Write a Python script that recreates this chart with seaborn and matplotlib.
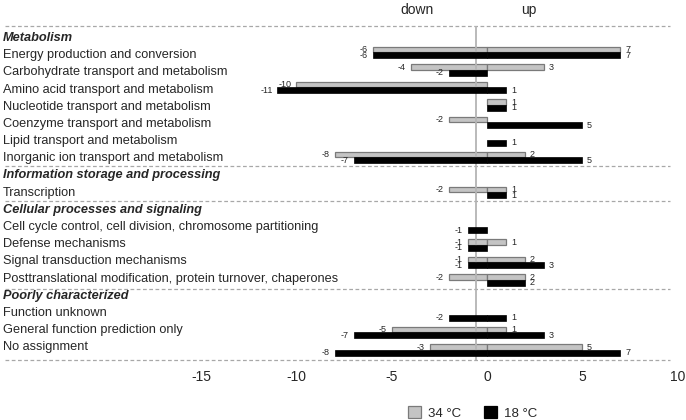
import numpy as np
import pandas as pd
import matplotlib
matplotlib.use('Agg')
import matplotlib.pyplot as plt
from matplotlib.patches import Patch
import seaborn as sns

sns.set_style('white')
plt.rcParams['font.family'] = ['Liberation Sans', 'DejaVu Sans']

# DATA
groups = ['Metabolism', 'Information storage and processing',
          'Cellular processes and signaling', 'Poorly characterized']
group_sizes = [7, 1, 4, 3]
categories = ['Energy production and conversion',
              'Carbohydrate transport and metabolism',
              'Amino acid transport and metabolism',
              'Nucleotide transport and metabolism',
              'Coenzyme transport and metabolism',
              'Lipid transport and metabolism',
              'Inorganic ion transport and metabolism',
              'Transcription',
              'Cell cycle control, cell division, chromosome partitioning',
              'Defense mechanisms',
              'Signal transduction mechanisms',
              'Posttranslational modification, protein turnover, chaperones',
              'Function unknown',
              'General function prediction only',
              'No assignment']
down_34 = [-6, -4, -10, 0, -2, 0, -8, -2, 0, -1, -1, -2, 0, -5, -3]
up_34 = [7, 3, 0, 1, 0, 0, 2, 1, 0, 1, 2, 2, 0, 1, 5]
down_18 = [-6, -2, -11, 0, 0, 0, -7, 0, -1, -1, -1, 0, -2, -7, -8]
up_18 = [7, 0, 1, 1, 5, 1, 5, 1, 0, 0, 3, 2, 1, 3, 7]
temps = ['34 °C', '18 °C']
xticks = [-15, -10, -5, 0, 5, 10]

colors = {'34 °C': '#c4c4c4', '18 °C': '#000000'}
edges = {'34 °C': '#7a7a7a', '18 °C': '#000000'}

# row order: group header followed by its categories
row_order = []
headers = []
k = 0
for g, n in zip(groups, group_sizes):
    row_order.append(g)
    headers.append(g)
    row_order.extend(categories[k:k + n])
    k += n

records = []
for i, cat in enumerate(categories):
    for temp, dn, up in [('34 °C', down_34, up_34), ('18 °C', down_18, up_18)]:
        if dn[i] != 0:
            records.append((cat, temp, 'down', dn[i]))
        if up[i] != 0:
            records.append((cat, temp, 'up', up[i]))
df = pd.DataFrame(records, columns=['row', 'temp', 'part', 'value'])

fig = plt.figure(figsize=(6.86, 4.2), dpi=100)
ax = fig.add_axes([0, 57 / 420, 1, 363 / 420])

bar_w = 0.64
for part in ['down', 'up']:
    sns.barplot(data=df[df.part == part], x='value', y='row', hue='temp',
                order=row_order, hue_order=temps, palette=colors,
                width=bar_w, orient='h', errorbar=None, saturation=1,
                legend=False, ax=ax)

for p in ax.patches:
    fc = matplotlib.colors.to_hex(p.get_facecolor())
    if fc == '#000000':
        p.set_edgecolor('black')
        p.set_linewidth(0.5)
        p.set_zorder(3)
    else:
        p.set_edgecolor(edges['34 °C'])
        p.set_linewidth(0.9)
        p.set_zorder(1)

# value labels
for cat, temp, part, v in df.itertuples(index=False):
    y = row_order.index(cat) + (-bar_w / 4 if temp == '34 °C' else bar_w / 4)
    if part == 'down':
        ax.annotate(str(v), (v, y), xytext=(-3.5, 0), textcoords='offset points',
                    ha='right', va='center', fontsize=6.5, zorder=5)
    else:
        ax.annotate(str(v), (v, y), xytext=(3.5, 0), textcoords='offset points',
                    ha='left', va='center', fontsize=6.5, zorder=5)

# row labels on the left
ytr = ax.get_yaxis_transform()
for i, r in enumerate(row_order):
    ty = (38 + 17.18 * i - 35) / 17.5
    if r in headers:
        ax.text(3 / 686, ty, r, transform=ytr, ha='left', va='center',
                fontsize=9.2, fontweight='bold', fontstyle='italic')
    else:
        ax.text(3 / 686, ty, r, transform=ytr, ha='left', va='center', fontsize=9.2)

# separators and centre line
bounds = [-0.5, 7.5, 9.5, 14.5, 18.6]
ax.hlines(bounds, -25.3, 9.6, colors='#a8a8a8', linestyles=(0, (3, 2)), lw=0.9)
ax.vlines(-0.55, -0.5, 18.6, colors='#b4b4b4', lw=1.3, zorder=2)

ax.text(-3.67, -1.43, 'down', ha='center', va='center', fontsize=10)
ax.text(2.2, -1.43, 'up', ha='center', va='center', fontsize=10)

ax.set_xlim(-25.56, 10.45)
ax.set_ylim(18.743, -2.0)
ax.set_xticks(xticks)
ax.set_xticklabels([str(t) for t in xticks], fontsize=10)
ax.set_yticks([])
ax.tick_params(axis='x', length=0, pad=5)
ax.set_xlabel('')
ax.set_ylabel('')
sns.despine(ax=ax, left=True, bottom=True)

handles = [Patch(facecolor=colors[t], edgecolor=edges[t], lw=0.9, label=t) for t in temps]
fig.legend(handles=handles, loc='center', bbox_to_anchor=(0.689, 0.017), ncol=2,
           frameon=False, fontsize=9.5, handlelength=1.0, handleheight=1.05,
           handletextpad=0.53, columnspacing=1.67)

plt.savefig('out.png', dpi=100)
